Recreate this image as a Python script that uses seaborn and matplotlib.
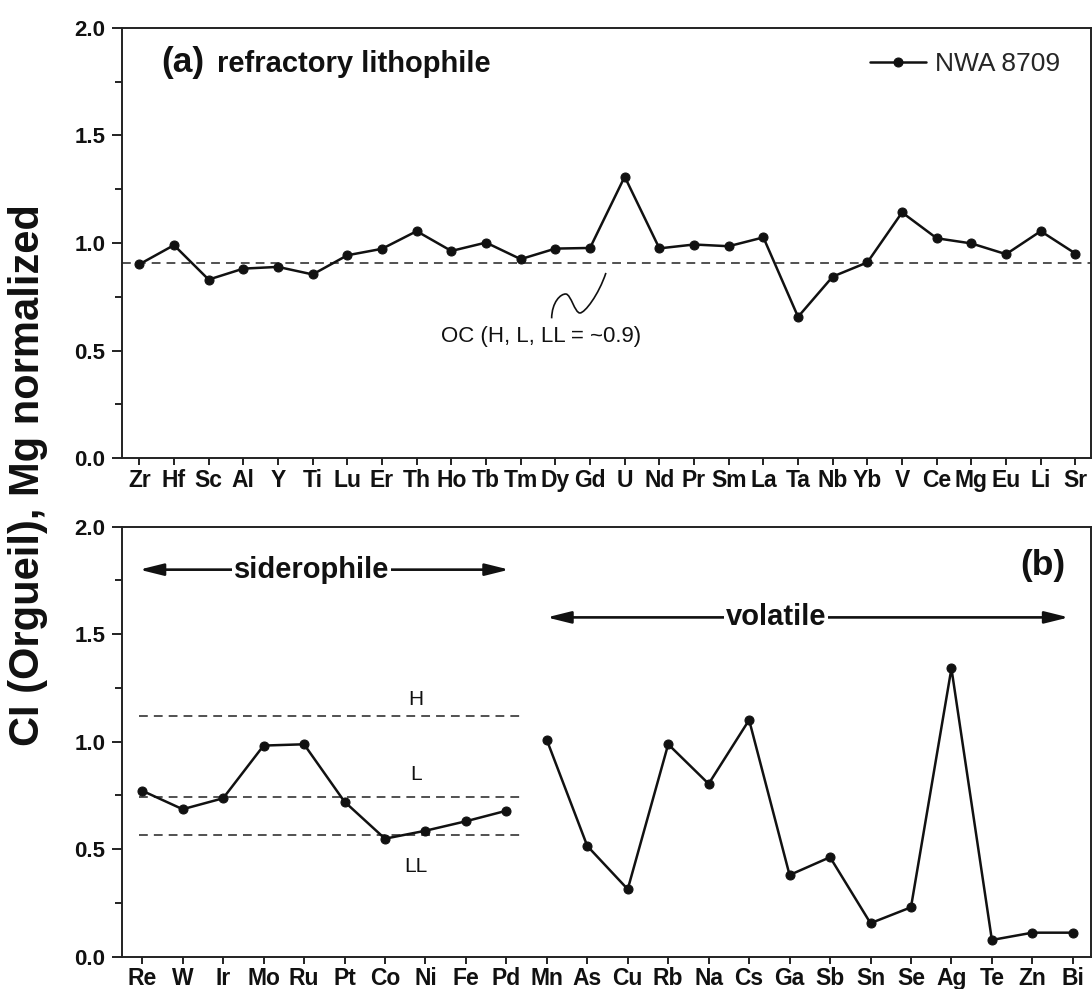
import numpy as np
import pandas as pd
import matplotlib
matplotlib.use("Agg")
import matplotlib.pyplot as plt
from matplotlib.path import Path
from matplotlib.patches import PathPatch, FancyArrowPatch
from matplotlib.ticker import MultipleLocator, FormatStrFormatter
import seaborn as sns

# ---- (a) refractory lithophile elements, CI (Orgueil) and Mg normalized ----
lith_elements = ["Zr", "Hf", "Sc", "Al", "Y", "Ti", "Lu", "Er", "Th", "Ho", "Tb", "Tm",
                 "Dy", "Gd", "U", "Nd", "Pr", "Sm", "La", "Ta", "Nb", "Yb", "V", "Ce",
                 "Mg", "Eu", "Li", "Sr"]
lith_values = [0.901, 0.990, 0.830, 0.881, 0.889, 0.854, 0.943, 0.973, 1.055, 0.963,
               1.002, 0.925, 0.974, 0.977, 1.308, 0.975, 0.993, 0.985, 1.026, 0.657,
               0.844, 0.910, 1.142, 1.022, 0.998, 0.948, 1.055, 0.951]
oc_level = 0.905

# ---- (b) siderophile and volatile elements ----
sid_elements = ["Re", "W", "Ir", "Mo", "Ru", "Pt", "Co", "Ni", "Fe", "Pd"]
sid_values = [0.772, 0.686, 0.737, 0.982, 0.988, 0.721, 0.549, 0.586, 0.630, 0.679]
vol_elements = ["Mn", "As", "Cu", "Rb", "Na", "Cs", "Ga", "Sb", "Sn", "Se", "Ag", "Te",
                "Zn", "Bi"]
vol_values = [1.008, 0.515, 0.314, 0.988, 0.804, 1.101, 0.380, 0.463, 0.156, 0.230,
              1.341, 0.078, 0.112, 0.112]
chondrite_names = ["H", "L", "LL"]
chondrite_levels = [1.121, 0.744, 0.565]

sns.set_theme(style="ticks")
plt.rcParams["font.family"] = ["Liberation Sans", "DejaVu Sans"]
plt.rcParams["font.weight"] = "bold"

INK = "#111111"
LINE_KW = dict(color=INK, linewidth=1.8, marker="o", markersize=6.5,
               markeredgecolor=INK, markerfacecolor=INK)
DASH = (0, (5.5, 3.8))

fig = plt.figure(figsize=(10.92, 9.89), dpi=100)
ax_a = fig.add_axes([0.1117, 0.5366, 0.8874, 0.4354])
ax_b = fig.add_axes([0.1117, 0.0326, 0.8874, 0.4349])

# panel (a)
df_a = pd.DataFrame({"element": lith_elements,
                     "pos": np.arange(len(lith_elements)),
                     "value": lith_values})
sns.lineplot(data=df_a, x="pos", y="value", ax=ax_a, sort=False,
             label="NWA 8709", **LINE_KW)
ax_a.axhline(oc_level, color="#2a2a2a", linewidth=1.15, linestyle=DASH, zorder=1)

# panel (b): two separate runs (siderophile, volatile)
all_b = sid_elements + vol_elements
df_b = pd.DataFrame({"element": all_b,
                     "pos": np.arange(len(all_b)),
                     "value": sid_values + vol_values,
                     "group": ["sid"] * len(sid_elements) + ["vol"] * len(vol_elements)})
sns.lineplot(data=df_b, x="pos", y="value", units="group", estimator=None,
             ax=ax_b, sort=False, legend=False, **LINE_KW)

label_offsets = {"H": 0.073, "L": 0.102, "LL": -0.147}
for name, lvl in zip(chondrite_names, chondrite_levels):
    ax_b.hlines(lvl, -0.09, 9.42, color="#2a2a2a", linewidth=1.15,
                linestyle=DASH, zorder=1)
    ax_b.text(6.77, lvl + label_offsets[name], name, ha="center", va="center",
              fontsize=15, fontweight="normal", color=INK)

# axes styling shared by both panels
for ax, labels in ((ax_a, lith_elements), (ax_b, all_b)):
    n = len(labels)
    ax.set_xlim(-0.5, n - 0.55)
    ax.set_ylim(0, 2.0)
    ax.set_xticks(np.arange(n))
    ax.set_xticklabels(labels)
    ax.set_yticks([0, 0.5, 1.0, 1.5, 2.0])
    ax.yaxis.set_major_formatter(FormatStrFormatter("%.1f"))
    ax.yaxis.set_minor_locator(MultipleLocator(0.25))
    ax.set_xlabel("")
    ax.set_ylabel("")
    for sp in ax.spines.values():
        sp.set_linewidth(1.4)
        sp.set_color("#222222")
    ax.tick_params(axis="y", which="major", length=7, width=1.3, pad=5,
                   labelsize=16, colors=INK)
    ax.tick_params(axis="y", which="minor", length=5, width=1.3, colors=INK)
    ax.tick_params(axis="x", which="major", length=5, width=1.3, pad=2.5,
                   labelsize=16.5, colors=INK)
    for t in ax.get_xticklabels() + ax.get_yticklabels():
        t.set_fontweight("bold")
    ax.grid(False)

# panel titles
ax_a.text(0.041, 0.8978, "(a)", transform=ax_a.transAxes, fontsize=25.5,
          fontweight="bold", ha="left", va="baseline", color=INK)
ax_a.text(0.0977, 0.8978, "refractory lithophile", transform=ax_a.transAxes,
          fontsize=21, fontweight="bold", ha="left", va="baseline", color=INK)
ax_b.text(0.9735, 0.8877, "(b)", transform=ax_b.transAxes, fontsize=25.5,
          fontweight="bold", ha="right", va="baseline", color=INK)

# legend
leg = ax_a.legend(loc="center right", bbox_to_anchor=(0.968, 0.9157),
                  frameon=False, fontsize=19, handlelength=2.11,
                  handletextpad=0.35, borderpad=0, borderaxespad=0)
for txt in leg.get_texts():
    txt.set_fontweight("normal")

# OC annotation with a wavy leader
ax_a.text(11.58, 0.565, "OC (H, L, LL = ~0.9)", ha="center", va="center",
          fontsize=16, fontweight="normal", color=INK)
verts = [(11.893, 0.650), (11.90, 0.725), (12.15, 0.765), (12.305, 0.763),
         (12.45, 0.761), (12.56, 0.675), (12.709, 0.675),
         (12.85, 0.675), (13.25, 0.760), (13.458, 0.861)]
codes = [Path.MOVETO] + [Path.CURVE4] * 9
ax_a.add_patch(PathPatch(Path(verts, codes), facecolor="none", edgecolor=INK,
                         linewidth=1.2))

# group arrows in panel (b)
def span_arrow(ax, x0, x1, y, text, xc):
    ax.add_patch(FancyArrowPatch((x0, y), (x1, y),
                                 arrowstyle="<|-|>,head_length=1.45,head_width=0.36",
                                 mutation_scale=10, color=INK, linewidth=1.9,
                                 shrinkA=0, shrinkB=0, zorder=3))
    ax.text(xc, y, text, ha="center", va="center", fontsize=21,
            fontweight="bold", color=INK, zorder=4,
            bbox=dict(facecolor="white", edgecolor="none", pad=1.5))

span_arrow(ax_b, -0.07, 9.07, 1.80, "siderophile", 4.19)
span_arrow(ax_b, 10.0, 22.9, 1.578, "volatile", 15.66)

fig.text(0.0252, 0.5197, "CI (Orgueil), Mg normalized", rotation=90,
         ha="center", va="center", fontsize=30, fontweight="bold", color=INK)

fig.savefig("out.png", dpi=100, facecolor="white")
